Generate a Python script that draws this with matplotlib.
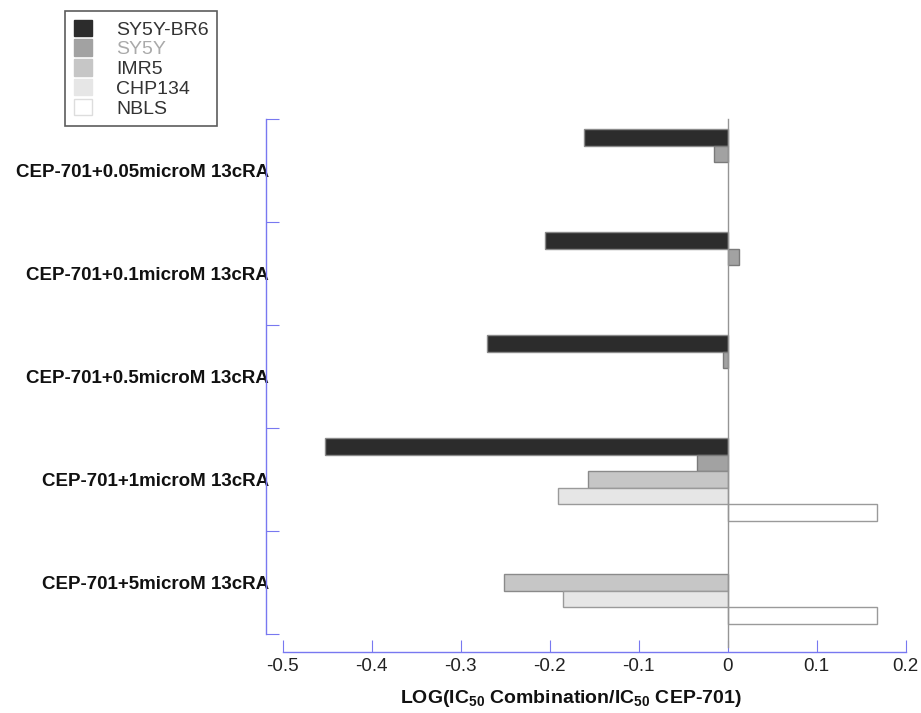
import numpy as np
import matplotlib
matplotlib.use("Agg")
import matplotlib.pyplot as plt
from matplotlib.patches import Patch

plt.rcParams['font.family'] = ['Liberation Sans', 'DejaVu Sans']
plt.rcParams['mathtext.fontset'] = 'custom'
plt.rcParams['mathtext.rm'] = 'Liberation Sans'
plt.rcParams['mathtext.bf'] = 'Liberation Sans:bold'

categories = ["CEP-701+0.05microM 13cRA",
              "CEP-701+0.1microM 13cRA",
              "CEP-701+0.5microM 13cRA",
              "CEP-701+1microM 13cRA",
              "CEP-701+5microM 13cRA"]
series_names = ["SY5Y-BR6", "SY5Y", "IMR5", "CHP134", "NBLS"]
sy5y_br6 = [-0.162, -0.205, -0.271, -0.452, np.nan]
sy5y = [-0.015, 0.013, -0.005, -0.034, np.nan]
imr5 = [np.nan, np.nan, np.nan, -0.157, -0.251]
chp134 = [np.nan, np.nan, np.nan, -0.191, -0.185]
nbls = [np.nan, np.nan, np.nan, 0.168, 0.168]
x_ticks = [-0.5, -0.4, -0.3, -0.2, -0.1, 0, 0.1, 0.2]
x_tick_labels = ["-0.5", "-0.4", "-0.3", "-0.2", "-0.1", "0", "0.1", "0.2"]

series = [sy5y_br6, sy5y, imr5, chp134, nbls]
fills = ["#2c2c2c", "#a2a2a2", "#c6c6c6", "#e6e6e6", "#ffffff"]
edges = ["#8a8a8a", "#7a7a7a", "#8a8a8a", "#9a9a9a", "#9a9a9a"]
label_colors = ["#333333", "#aaaaaa", "#333333", "#333333", "#333333"]
axis_blue = "#7878f0"

W, H = 921, 713
fig = plt.figure(figsize=(W / 100, H / 100), dpi=100)
ax = fig.add_axes([282.7 / W, 1 - 634 / H, (905.7 - 282.7) / W, (634 - 119) / H])

n_groups = len(categories)
bar_h = 0.16
for i, (vals, fc, ec) in enumerate(zip(series, fills, edges)):
    vals = np.array(vals, dtype=float)
    mask = ~np.isnan(vals)
    ypos = np.arange(n_groups) + 0.1 + bar_h * i + bar_h / 2
    ax.barh(ypos[mask], vals[mask], height=bar_h, color=fc, edgecolor=ec,
            linewidth=1.0, zorder=2)

ax.set_xlim(-0.5, 0.2)
ax.set_ylim(n_groups, 0)

# zero reference line
ax.axvline(0, ymin=-0.026, ymax=1.0, color="#959595", linewidth=1.0,
           clip_on=False, zorder=3)

for s in ["top", "right"]:
    ax.spines[s].set_visible(False)
ax.spines["left"].set_position(("outward", 12))
ax.spines["bottom"].set_position(("outward", 13))
for s in ["left", "bottom"]:
    ax.spines[s].set_color(axis_blue)
    ax.spines[s].set_linewidth(1.0)

ax.set_xticks(x_ticks)
ax.set_xticklabels(x_tick_labels)
ax.tick_params(axis="x", direction="in", length=9, color=axis_blue,
               labelsize=13.5, labelcolor="#222222", pad=4)

ax.set_yticks(np.arange(n_groups + 1))
ax.set_yticklabels([])
ax.tick_params(axis="y", which="major", direction="in", length=9, color=axis_blue)
ax.set_yticks(np.arange(n_groups) + 0.5, minor=True)
ax.set_yticklabels(categories, minor=True, fontweight="bold", fontsize=13.5)
ax.tick_params(axis="y", which="minor", length=0, pad=-2, labelcolor="#111111")

ax.set_xlabel(r"LOG(IC$_{\mathbf{50}}$ Combination/IC$_{\mathbf{50}}$ CEP-701)",
              fontsize=14, fontweight="bold", color="#111111")
ax.xaxis.set_label_coords(0.463, -0.105)

handles = [Patch(facecolor=fc, edgecolor="#dddddd" if fc == "#ffffff" else fc,
                 linewidth=1.0) for fc in fills]
leg = fig.legend(handles, series_names, loc="upper left",
                 bbox_to_anchor=(65 / W, 1 - 11 / H), borderaxespad=0,
                 fontsize=14, frameon=True, fancybox=False, shadow=False,
                 handlelength=0.93, handleheight=0.93, handletextpad=1.24,
                 labelspacing=0.04, borderpad=0.45)
leg.get_frame().set_edgecolor("#333333")
leg.get_frame().set_linewidth(1.2)
for t, c in zip(leg.get_texts(), label_colors):
    t.set_color(c)

fig.savefig("out.png", dpi=100, facecolor="white")
